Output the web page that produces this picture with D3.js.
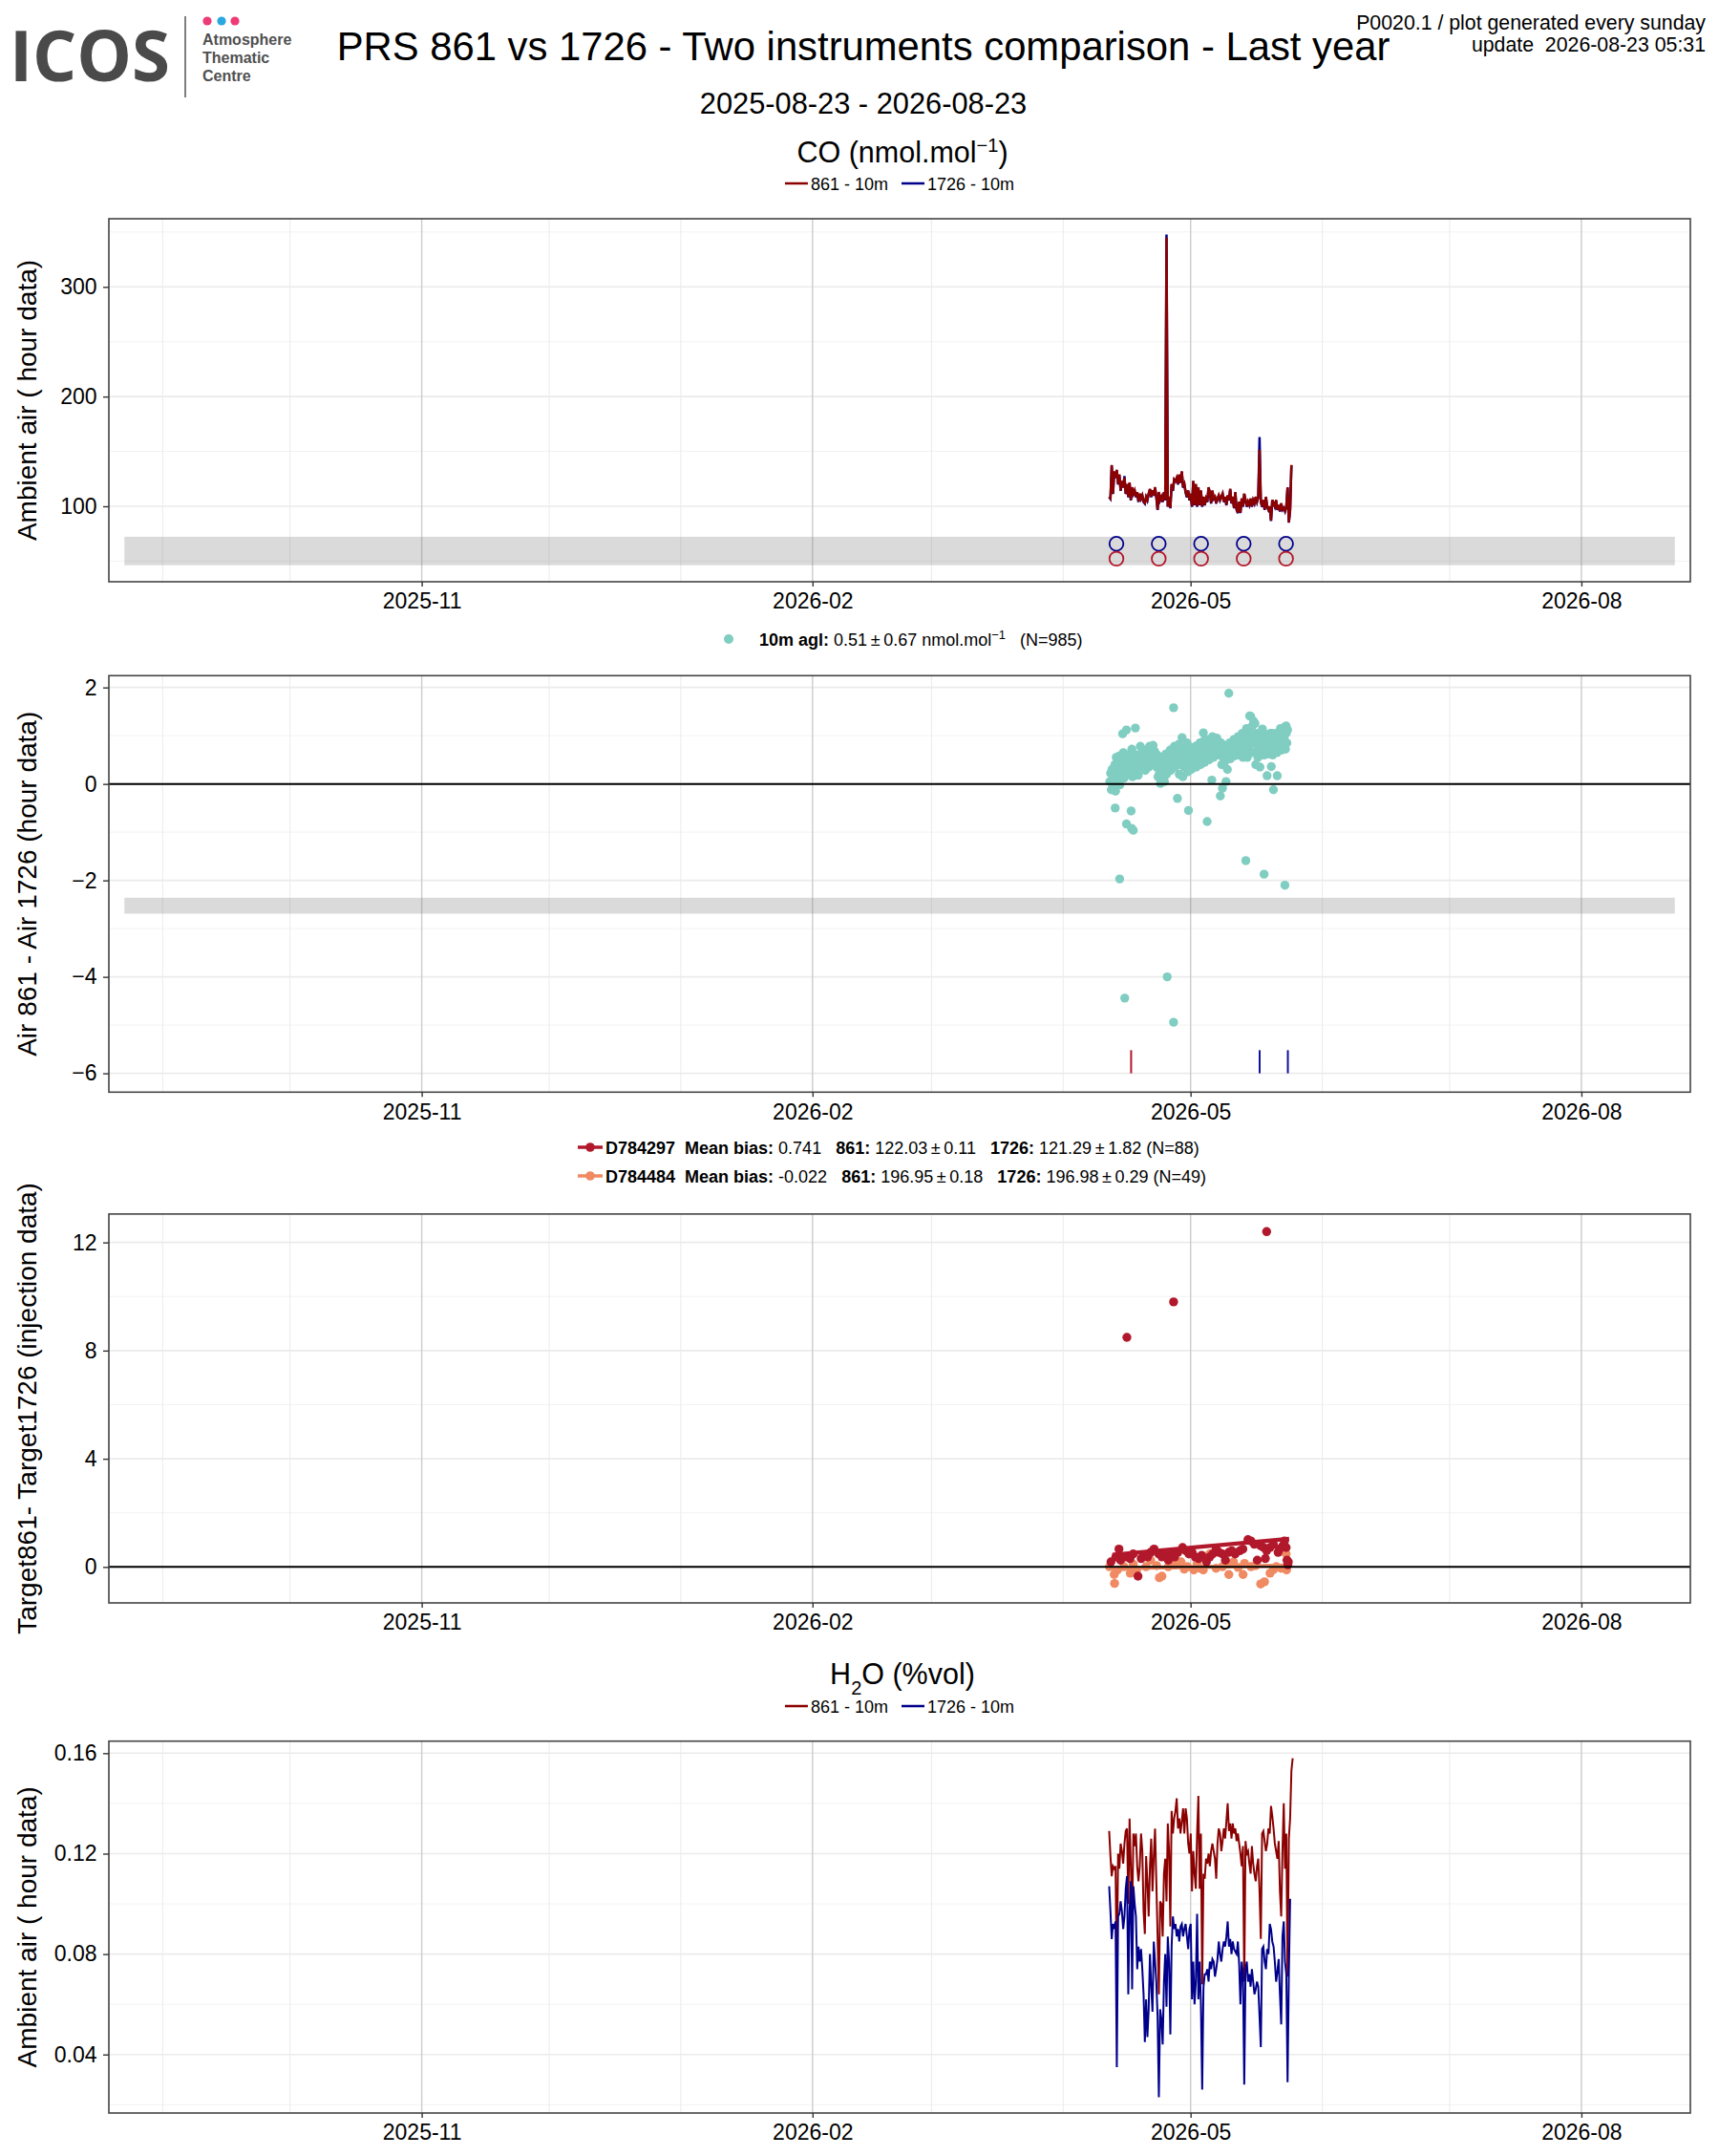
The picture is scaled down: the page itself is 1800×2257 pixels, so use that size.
<!DOCTYPE html>
<html>
<head>
<meta charset="utf-8">
<script src="https://cdn.jsdelivr.net/npm/d3@7"></script>
<style>
  body { margin: 0; background: #fff; }
  svg { display: block; }
  text { font-family: "Liberation Sans", Arial, Helvetica, sans-serif; fill: #000; }
</style>
</head>
<body>
<div id="chart"></div>
<script>
// ---------- data ----------
const xTickLabels = ['2025-11', '2026-02', '2026-05', '2026-08'];
const coTicks = [100, 200, 300];
const diffTicks = [-6, -4, -2, 0, 2];
const tgtTicks = [0, 4, 8, 12];
const h2oTicks = [0.04, 0.08, 0.12, 0.16];

// hourly-ish ambient series, one value every 7.2 h from 2026-04-11 20:00 UTC
const seriesStart = '2026-04-11T20:00:00Z';
const seriesStepHours = 7.2;

const co861 = [
  108.7, 107.2, 137.7, 111.6, 131.9, 126.1, 133.3, 120.3, 129.0, 114.5,
  123.2, 117.4, 126.1, 111.6, 120.3, 108.7, 121.7, 105.8, 117.4, 111.6,
  114.5, 108.7, 113.0, 104.3, 111.6, 107.2, 110.1, 104.3, 102.9, 108.7,
  105.8, 111.6, 115.9, 108.7, 114.5, 110.1, 117.4, 108.7, 97.1, 113.0,
  105.8, 108.7, 104.3, 113.0, 105.8, 344.9, 100.0, 108.7, 98.6, 120.3,
  114.5, 124.6, 123.2, 126.1, 120.3, 129.0, 121.7, 131.9, 117.4, 120.3,
  113.0, 108.7, 114.5, 105.8, 111.6, 100.0, 123.2, 101.4, 120.3, 100.0,
  117.4, 101.4, 114.5, 100.0, 108.7, 101.4, 107.2, 104.3, 117.4, 113.0,
  102.9, 114.5, 107.2, 108.7, 102.9, 107.2, 110.1, 105.8, 108.7, 111.6,
  104.3, 108.7, 101.4, 110.1, 105.8, 115.9, 102.9, 108.7, 98.6, 113.0,
  97.1, 94.2, 104.3, 94.2, 107.2, 100.0, 111.6, 105.8, 100.0, 104.3,
  101.4, 107.2, 100.0, 105.8, 102.9, 108.7, 104.3, 108.7, 151.6, 104.3,
  100.0, 105.8, 97.1, 108.7, 100.0, 97.1, 100.0, 87.0, 105.8, 102.9,
  100.0, 105.8, 97.1, 101.4, 95.7, 102.9, 97.1, 98.6, 95.7, 100.0,
  117.4, 85.5, 97.1, 137.7
];
const co1726 = [
  108.2, 106.7, 137.2, 111.1, 131.4, 125.6, 132.8, 119.8, 128.5, 114.0,
  122.7, 116.9, 127.5, 111.1, 119.8, 108.2, 121.2, 105.3, 116.9, 111.1,
  114.0, 108.2, 112.5, 103.8, 111.1, 106.7, 109.6, 103.8, 102.4, 108.2,
  105.3, 111.1, 115.4, 108.2, 114.0, 109.6, 116.9, 108.2, 96.6, 112.5,
  105.3, 108.2, 103.8, 112.5, 105.3, 347.8, 99.5, 108.2, 98.1, 119.8,
  114.0, 124.1, 122.7, 125.6, 119.8, 128.5, 121.2, 131.4, 116.9, 119.8,
  112.5, 108.2, 114.0, 105.3, 111.1, 99.5, 122.7, 100.9, 119.8, 99.5,
  116.9, 100.9, 114.0, 99.5, 108.2, 100.9, 106.7, 103.8, 116.9, 112.5,
  102.4, 114.0, 106.7, 108.2, 102.4, 106.7, 109.6, 105.3, 108.2, 111.1,
  103.8, 108.2, 100.9, 109.6, 105.3, 115.4, 102.4, 108.2, 98.1, 112.5,
  96.6, 93.7, 103.8, 93.7, 106.7, 99.5, 111.1, 105.3, 99.5, 103.8,
  100.9, 106.7, 99.5, 105.3, 102.4, 108.2, 103.8, 108.2, 163.2, 103.8,
  99.5, 105.3, 96.6, 108.2, 99.5, 96.6, 99.5, 86.5, 105.3, 102.4,
  99.5, 105.3, 96.6, 100.9, 95.2, 102.4, 96.6, 98.1, 95.2, 99.5,
  116.9, 85.0, 96.6, 137.2
];

const h2o861 = [
  0.129, 0.119, 0.111, 0.115, 0.114, 0.115, 0.069, 0.120, 0.114, 0.124,
  0.121, 0.116, 0.124, 0.129, 0.130, 0.100, 0.134, 0.115, 0.093, 0.128,
  0.123, 0.128, 0.115, 0.109, 0.115, 0.128, 0.121, 0.097, 0.088, 0.119,
  0.109, 0.095, 0.115, 0.126, 0.105, 0.119, 0.130, 0.109, 0.087, 0.064,
  0.101, 0.100, 0.087, 0.112, 0.118, 0.101, 0.132, 0.121, 0.091, 0.137,
  0.128, 0.134, 0.137, 0.142, 0.130, 0.134, 0.128, 0.133, 0.138, 0.128,
  0.138, 0.134, 0.124, 0.120, 0.128, 0.105, 0.121, 0.112, 0.106, 0.128,
  0.143, 0.106, 0.128, 0.068, 0.112, 0.110, 0.118, 0.116, 0.120, 0.115,
  0.121, 0.124, 0.121, 0.118, 0.110, 0.124, 0.130, 0.128, 0.121, 0.125,
  0.130, 0.126, 0.133, 0.140, 0.129, 0.132, 0.126, 0.132, 0.128, 0.130,
  0.125, 0.128, 0.124, 0.120, 0.115, 0.123, 0.069, 0.125, 0.120, 0.121,
  0.116, 0.112, 0.123, 0.116, 0.112, 0.109, 0.115, 0.118, 0.105, 0.086,
  0.128, 0.129, 0.125, 0.121, 0.124, 0.130, 0.128, 0.139, 0.135, 0.130,
  0.124, 0.121, 0.118, 0.125, 0.105, 0.095, 0.121, 0.140, 0.114, 0.128,
  0.071, 0.126, 0.134, 0.153, 0.158
];
const h2o1726 = [
  0.107, 0.097, 0.086, 0.092, 0.090, 0.093, 0.035, 0.095, 0.096, 0.101,
  0.097, 0.090, 0.095, 0.106, 0.111, 0.064, 0.097, 0.109, 0.066, 0.107,
  0.100, 0.095, 0.074, 0.083, 0.077, 0.082, 0.074, 0.064, 0.045, 0.062,
  0.047, 0.058, 0.080, 0.067, 0.057, 0.085, 0.077, 0.069, 0.055, 0.023,
  0.058, 0.054, 0.044, 0.069, 0.080, 0.059, 0.087, 0.077, 0.048, 0.083,
  0.095, 0.090, 0.092, 0.087, 0.090, 0.085, 0.091, 0.092, 0.087, 0.090,
  0.092, 0.087, 0.082, 0.090, 0.092, 0.062, 0.077, 0.060, 0.069, 0.096,
  0.062, 0.077, 0.060, 0.026, 0.067, 0.072, 0.072, 0.074, 0.069, 0.077,
  0.074, 0.078, 0.077, 0.071, 0.074, 0.078, 0.085, 0.080, 0.077, 0.082,
  0.085, 0.083, 0.087, 0.093, 0.083, 0.086, 0.080, 0.085, 0.082, 0.081,
  0.080, 0.085, 0.076, 0.060, 0.077, 0.072, 0.028, 0.074, 0.077, 0.069,
  0.072, 0.067, 0.074, 0.069, 0.064, 0.066, 0.069, 0.067, 0.055, 0.043,
  0.082, 0.083, 0.077, 0.074, 0.082, 0.080, 0.092, 0.090, 0.085, 0.083,
  0.077, 0.069, 0.073, 0.078, 0.064, 0.052, 0.087, 0.093, 0.077, 0.072,
  0.029, 0.072, 0.102
];

// calibration markers (days from 2026-05-01) and the levels they are drawn at
const calDay = [-17.46, -7.5, 2.47, 12.5, 22.47];
const cal1726Level = 65.8;
const cal861Level = 52.2;
const coBand = [46.3, 72.2];

// Air 861 - Air 1726 : one row per day (2026-04-12 .. 2026-05-23), every 4 h
const diffStart = '2026-04-12T00:00:00Z';
const diffStepHours = 4;
const diffCloud = [
  0.05, 0.22, -0.12, 0.30, 0.10, -0.05,
  0.15, 0.40, -0.15, 0.55, 0.25, 0.05,
  0.30, 0.58, -0.02, 0.45, 0.20, 0.52,
  0.40, 0.65, 0.12, 0.55, 0.30, 0.48,
  0.35, 0.60, 0.20, 0.50, 0.42, 0.25,
  0.55, 0.72, 0.15, 0.40, 0.62, 0.30,
  0.45, 0.25, 0.60, 0.38, 0.18, 0.52,
  0.60, 0.78, 0.35, 0.55, 0.70, 0.42,
  0.50, 0.70, 0.28, 0.62, 0.40, 0.55,
  0.65, 0.35, 0.78, 0.52, 0.45, 0.70,
  0.58, 0.80, 0.40, 0.68, 0.50, 0.62,
  0.35, 0.60, 0.15, 0.48, 0.25, 0.55,
  0.30, 0.10, 0.55, 0.22, 0.45, 0.05,
  0.40, 0.62, 0.20, 0.50, 0.35, 0.58,
  0.48, 0.70, 0.28, 0.60, 0.40, 0.65,
  0.55, 0.78, 0.35, 0.62, 0.45, 0.72,
  0.50, 0.82, 0.20, 0.65, 0.40, 0.75,
  0.45, 0.15, 0.70, 0.35, 0.60, 0.78,
  0.55, 0.85, 0.25, 0.68, 0.45, 0.75,
  0.60, 0.30, 0.75, 0.50, 0.65, 0.40,
  0.58, 0.78, 0.35, 0.65, 0.50, 0.72,
  0.62, 0.85, 0.40, 0.70, 0.55, 0.80,
  0.70, 0.90, 0.45, 0.78, 0.60, 0.85,
  0.72, 0.92, 0.50, 0.80, 0.65, 0.88,
  0.75, 0.98, 0.55, 0.85, 0.68, 0.90,
  0.80, 0.95, 0.60, 0.88, 0.70, 0.75,
  0.65, 0.85, 0.40, 0.72, 0.55, 0.80,
  0.45, 0.75, 0.05, 0.60, 0.30, 0.70,
  0.65, 0.85, 0.52, 0.75, 0.60, 0.80,
  0.70, 0.92, 0.58, 0.82, 0.65, 0.88,
  0.75, 0.98, 0.60, 0.85, 0.70, 0.92,
  0.80, 1.05, 0.55, 0.90, 0.70, 0.95,
  0.85, 1.15, 0.55, 0.95, 0.75, 1.05,
  1.00, 1.40, 0.65, 1.20, 0.85, 1.30,
  0.90, 1.25, 0.40, 1.05, 0.70, 0.55,
  0.75, 1.00, 0.35, 0.85, 0.60, 0.95,
  0.80, 1.05, 0.60, 0.90, 0.70, 1.00,
  0.85, 1.00, 0.62, 0.95, 0.75, 1.05,
  0.80, 1.05, 0.60, 0.92, 0.70, 1.00,
  0.85, 1.05, 0.65, 0.95, 0.75, 1.00,
  0.90, 1.15, 0.70, 1.00, 0.80, 1.10,
  0.95, 1.18, 0.72, 1.05, 0.85, 1.12
];
// scattered hours away from the main cloud (days from 2026-05-01)
const diffExtraDay = [-17.75, -16.7, -16.0, -15.5, -15.1, -15.1, -14.0, -13.9, -13.5, -13.0, -7.1,
  -5.5, -4.0, -4.0, -3.1, -2.0, -0.5, 3.0, 3.9, 5.0, 7.0, 7.5, 9.0, 13.0, 13.9, 16.9, 17.3,
  18.0, 19.0, 19.5, 20.4, 22.2, 22.5];
const diffExtraVal = [-0.50, -1.97, 1.04, -4.44, 1.12, -0.83, -0.56, -0.92, -0.96, 1.16, 0.01,
  -4.00, 1.58, -4.94, -0.30, 0.96, -0.55, 1.06, -0.78, 0.08, -0.25, -0.09, 1.88, -1.59, 1.41, 1.14, -1.87,
  0.17, 0.36, -0.12, 0.17, -2.10, 1.20];
const diffBand = [-2.69, -2.36];
const flag861Day = [-14.0];
const flag1726Day = [16.25, 22.9];

// target injections, days from 2026-05-01
const t1Day = [-18.74, -17.6, -16.86, -16.49, -15.37, -15.0, -14.25, -13.5, -12.38, -11.63, -10.9, -10.13,
  -9.4, -8.6, -7.5, -6.75, -6.0, -5.25, -4.5, -4.0, -3.75, -3.0, -1.89, -1.1, -0.4, 0.37, 1.1, 1.9,
  2.6, 3.73, 4.5, 5.2, 6.0, 6.7, 7.5, 8.2, 9.0, 9.7, 10.5, 11.6, 12.3, 13.5, 14.2, 15.0, 15.7, 16.5,
  17.2, 17.6, 17.9, 17.9, 18.7, 19.5, 20.6, 20.9, 21.7, 22.1, 22.5, 22.7, 22.9, 23.0];
const t1Val = [0.19, 0.37, 0.66, 0.25, 0.37, 8.49, 0.31, 0.48, -0.34, 0.31, 0.43, 0.37,
  0.54, 0.66, 0.48, 0.37, 0.43, 0.25, 0.48, 9.80, 0.37, 0.54, 0.72, 0.60, 0.48, 0.54, 0.37, 0.31,
  0.43, 0.19, 0.37, 0.48, 0.66, 0.54, 0.48, 0.25, 0.54, 0.60, 0.48, 0.60, 0.66, 1.01, 0.96, 0.84, 0.25, 0.78,
  0.72, 0.31, 12.40, 0.60, 0.72, 0.84, 0.54, 0.66, 0.78, 0.96, 0.72, 0.25, 0.08, 0.19];
const t1TrendDay = [-18.4, 23.2];
const t1TrendVal = [0.45, 1.04];

const t2Day = [-19.1, -17.98, -17.9, -17.2, -15.7, -14.2, -13.5, -12.7, -10.5, -9.4, -8.0, -7.35, -6.75,
  -5.25, -3.75, -2.25, -1.5, -0.75, 0.74, 1.5, 2.24, 2.99, 4.49, 5.99, 7.5, 8.3, 9.0, 10.1, 11.2,
  12.35, 12.7, 14.2, 15.3, 16.5, 17.4, 18.7, 19.5, 20.2, 21.3, 22.5, 22.6, 22.85];
const t2Val = [0.01, -0.28, -0.61, -0.11, 0.01, -0.23, 0.10, -0.11, 0.01, 0.25, 0.05, -0.40, -0.34,
  0.01, 0.07, 0.19, -0.08, 0.01, -0.11, 0.12, -0.05, -0.11, 0.48, -0.05, 0.01, 0.10, -0.28, 0.19, -0.02,
  -0.28, 0.13, 0.01, 0.05, -0.63, -0.55, -0.23, -0.10, 0.01, -0.05, 0.48, -0.11, 0.13];
const t2TrendDay = [-19.1, 22.9];
const t2TrendVal = [-0.05, 0.05];

// ---------- setup ----------
const W = 1800, H = 2257;
const DAY = 864e5;
const refDay = Date.UTC(2026, 4, 1);
const fromDay = d => new Date(refDay + d * DAY);
const col861 = '#8b0000', col1726 = '#00008b';
const colTeal = '#80cdc1', colT1 = '#b2182b', colT2 = '#ef8a62';
const legendSize = 18;

const svg = d3.select('#chart').append('svg')
  .attr('width', W).attr('height', H);
svg.append('rect').attr('width', W).attr('height', H).attr('fill', '#fff');

const rangeStart = Date.UTC(2025, 7, 23), rangeEnd = Date.UTC(2026, 7, 23);
const pad = 0.01 * (rangeEnd - rangeStart);
const x = d3.scaleUtc()
  .domain([new Date(rangeStart - pad), new Date(rangeEnd + pad)])
  .range([114, 1770]);
const majorDates = xTickLabels.map(d3.utcParse('%Y-%m'));
const minorDates = d3.utcMonth.range(x.domain()[0], x.domain()[1])
  .filter(d => !majorDates.some(m => +m === +d));

const seriesT0 = Date.parse(seriesStart);
const seriesX = i => x(new Date(seriesT0 + i * seriesStepHours * 3600e3));
const diffT0 = Date.parse(diffStart);

function minorOf(ticks, dom) {
  const step = ticks[1] - ticks[0];
  const out = [];
  for (let v = ticks[0] - step / 2; v <= ticks[ticks.length - 1] + step; v += step) {
    if (v >= dom[0] && v <= dom[1]) out.push(v);
  }
  return out;
}

// draws the grid, and returns the y scale + a layer for the marks
function drawPanel(p) {
  const y = d3.scaleLinear().domain(p.domain).range([p.bottom, p.top]);
  const [x0, x1] = x.range();
  const g = svg.append('g');
  g.selectAll(null).data(minorOf(p.ticks, p.domain)).enter().append('line')
    .attr('x1', x0).attr('x2', x1).attr('y1', d => y(d)).attr('y2', d => y(d))
    .attr('stroke', '#f2f2f2').attr('stroke-width', 1);
  g.selectAll(null).data(minorDates).enter().append('line')
    .attr('x1', d => x(d)).attr('x2', d => x(d)).attr('y1', p.top).attr('y2', p.bottom)
    .attr('stroke', '#ebebeb').attr('stroke-width', 1);
  g.selectAll(null).data(p.ticks).enter().append('line')
    .attr('x1', x0).attr('x2', x1).attr('y1', d => y(d)).attr('y2', d => y(d))
    .attr('stroke', '#ebebeb').attr('stroke-width', 1.6);
  g.selectAll(null).data(majorDates).enter().append('line')
    .attr('x1', d => x(d)).attr('x2', d => x(d)).attr('y1', p.top).attr('y2', p.bottom)
    .attr('stroke', '#cccccc').attr('stroke-width', 1.4);
  const data = svg.append('g');
  return { y, data, p };
}

function finishPanel(pan) {
  const { y, p } = pan;
  const [x0, x1] = x.range();
  svg.append('rect')
    .attr('x', x0).attr('y', p.top).attr('width', x1 - x0).attr('height', p.bottom - p.top)
    .attr('fill', 'none').attr('stroke', '#444').attr('stroke-width', 1.6);

  const ya = svg.append('g').attr('transform', `translate(${x0},0)`)
    .call(d3.axisLeft(y).tickValues(p.ticks).tickSize(6).tickPadding(6.5).tickFormat(p.fmt));
  ya.select('.domain').remove();
  ya.selectAll('line').attr('stroke', '#333').attr('stroke-width', 1.4);
  ya.selectAll('text').attr('font-size', 23).attr('fill', '#000')
    .style('font-family', '"Liberation Sans", Arial, sans-serif');

  const xa = svg.append('g').attr('transform', `translate(0,${p.bottom})`)
    .call(d3.axisBottom(x).tickValues(majorDates).tickSize(5).tickPadding(7)
      .tickFormat(d3.utcFormat('%Y-%m')));
  xa.select('.domain').remove();
  xa.selectAll('line').attr('stroke', '#333').attr('stroke-width', 1.4);
  xa.selectAll('text').attr('font-size', 23).attr('fill', '#000')
    .style('font-family', '"Liberation Sans", Arial, sans-serif');

  svg.append('text')
    .attr('transform', `translate(38,${(p.top + p.bottom) / 2}) rotate(-90)`)
    .attr('text-anchor', 'middle').attr('font-size', 28)
    .text(p.title);
}

function band(pan, vals) {
  pan.data.append('rect')
    .attr('x', x(new Date(rangeStart))).attr('width', x(new Date(rangeEnd)) - x(new Date(rangeStart)))
    .attr('y', pan.y(vals[1])).attr('height', pan.y(vals[0]) - pan.y(vals[1]))
    .attr('fill', '#7f7f7f').attr('fill-opacity', 0.29);
}

function zeroLine(pan) {
  pan.data.append('line')
    .attr('x1', x.range()[0]).attr('x2', x.range()[1])
    .attr('y1', pan.y(0)).attr('y2', pan.y(0))
    .attr('stroke', '#000').attr('stroke-width', 2);
}

// ---------- header ----------
svg.append('text').attr('x', 10).attr('y', 85)
  .attr('font-size', 73).attr('font-weight', 700).attr('textLength', 168)
  .attr('lengthAdjust', 'spacingAndGlyphs')
  .style('font-family', '"Open Sans", sans-serif').style('fill', '#4a4a4a')
  .text('ICOS');
svg.append('line').attr('x1', 194).attr('x2', 194).attr('y1', 17).attr('y2', 102)
  .attr('stroke', '#555').attr('stroke-width', 1.5);
[['#ec3b76', 217], ['#2aa6e0', 232], ['#ec3b76', 246]].forEach(([c, cx]) => {
  svg.append('circle').attr('cx', cx).attr('cy', 22).attr('r', 4.6).attr('fill', c);
});
['Atmosphere', 'Thematic', 'Centre'].forEach((t, i) => {
  svg.append('text').attr('x', 212).attr('y', 47 + i * 19)
    .attr('font-size', 16).attr('font-weight', 700)
    .style('font-family', '"Liberation Sans", Arial, sans-serif').style('fill', '#505050')
    .text(t);
});
svg.append('text').attr('x', 904).attr('y', 63).attr('text-anchor', 'middle')
  .attr('font-size', 41.8).text('PRS 861 vs 1726 - Two instruments comparison - Last year');
svg.append('text').attr('x', 904).attr('y', 119).attr('text-anchor', 'middle')
  .attr('font-size', 30.8).text('2025-08-23 - 2026-08-23');
svg.append('text').attr('x', 1786).attr('y', 31).attr('text-anchor', 'end')
  .attr('font-size', 21.3).text('P0020.1 / plot generated every sunday');
svg.append('text').attr('x', 1786).attr('y', 54).attr('text-anchor', 'end')
  .attr('font-size', 21.3).style('white-space', 'pre').text('update  2026-08-23 05:31');

function unitTitle(cy, build) {
  const t = svg.append('text').attr('x', 945).attr('y', cy).attr('text-anchor', 'middle')
    .attr('font-size', 30.5);
  build(t);
}
function lineLegend(cy) {
  const g = svg.append('g');
  let cx = 0;
  [['861 - 10m', col861], ['1726 - 10m', col1726]].forEach(([label, c]) => {
    g.append('line').attr('x1', cx).attr('x2', cx + 24).attr('y1', cy).attr('y2', cy)
      .attr('stroke', c).attr('stroke-width', 2.5);
    const t = g.append('text').attr('x', cx + 27).attr('y', cy + 6.5).attr('font-size', legendSize).text(label);
    cx += 27 + t.node().getComputedTextLength() + 14;
  });
  g.attr('transform', `translate(${942 - (cx - 14) / 2},0)`);
}

// ---------- panel 1 : CO ambient ----------
unitTitle(170, t => {
  t.append('tspan').text('CO (nmol.mol');
  t.append('tspan').attr('font-size', 20).attr('baseline-shift', 'super').text('\u22121');
  t.append('tspan').text(')');
});
lineLegend(192);

const p1 = drawPanel({ top: 229, bottom: 609, domain: [31.2, 362.1], ticks: coTicks,
  fmt: d3.format('d'), title: 'Ambient air ( hour data)' });
band(p1, coBand);
p1.data.append('path').datum(co1726)
  .attr('d', d3.line().x((d, i) => seriesX(i)).y(d => p1.y(d)))
  .attr('fill', 'none').attr('stroke', col1726).attr('stroke-width', 2.5);
p1.data.append('path').datum(co861)
  .attr('d', d3.line().x((d, i) => seriesX(i)).y(d => p1.y(d)))
  .attr('fill', 'none').attr('stroke', col861).attr('stroke-width', 2.5);
p1.data.selectAll(null).data(calDay).enter().append('circle')
  .attr('cx', d => x(fromDay(d))).attr('cy', p1.y(cal1726Level)).attr('r', 7.3)
  .attr('fill', 'none').attr('stroke', col1726).attr('stroke-width', 1.8);
p1.data.selectAll(null).data(calDay).enter().append('circle')
  .attr('cx', d => x(fromDay(d))).attr('cy', p1.y(cal861Level)).attr('r', 7.3)
  .attr('fill', 'none').attr('stroke', colT1).attr('stroke-width', 1.8);
finishPanel(p1);

// ---------- panel 2 : Air difference ----------
{
  const g = svg.append('g');
  g.append('circle').attr('cx', 763).attr('cy', 669).attr('r', 5).attr('fill', colTeal);
  const t = g.append('text').attr('x', 795).attr('y', 675.5).attr('font-size', legendSize)
    .style('white-space', 'pre');
  t.append('tspan').attr('font-weight', 700).text('10m agl:');
  t.append('tspan').text(' 0.51\u2009\u00b1\u20090.67 nmol.mol');
  t.append('tspan').attr('font-size', 13).attr('baseline-shift', 'super').text('\u22121');
  t.append('tspan').text('   (N=985)');
}
const p2 = drawPanel({ top: 707.3, bottom: 1143.3, domain: [-6.39, 2.245], ticks: diffTicks,
  fmt: d3.format('d'), title: 'Air 861 - Air 1726 (hour data)' });
band(p2, diffBand);
p2.data.selectAll(null).data(diffCloud).enter().append('circle')
  .attr('cx', (d, i) => x(new Date(diffT0 + i * diffStepHours * 3600e3)))
  .attr('cy', d => p2.y(d)).attr('r', 4.7).attr('fill', colTeal);
p2.data.selectAll(null).data(diffExtraVal).enter().append('circle')
  .attr('cx', (d, i) => x(fromDay(diffExtraDay[i])))
  .attr('cy', d => p2.y(d)).attr('r', 4.7).attr('fill', colTeal);
[[flag861Day, colT1], [flag1726Day, '#0f0f9e']].forEach(([days, c]) => {
  p2.data.selectAll(null).data(days).enter().append('line')
    .attr('x1', d => x(fromDay(d))).attr('x2', d => x(fromDay(d)))
    .attr('y1', p2.y(-5.52)).attr('y2', p2.y(-6.0))
    .attr('stroke', c).attr('stroke-width', 2);
});
zeroLine(p2);
finishPanel(p2);

// ---------- panel 3 : target injections ----------
{
  const rows = [
    [colT1, 'D784297', '0.741', '122.03\u2009\u00b1\u20090.11', '121.29\u2009\u00b1\u20091.82 (N=88)'],
    [colT2, 'D784484', '-0.022', '196.95\u2009\u00b1\u20090.18', '196.98\u2009\u00b1\u20090.29 (N=49)']
  ];
  rows.forEach(([c, id, bias, a, b], i) => {
    const cy = 1201 + i * 30;
    svg.append('line').attr('x1', 605).attr('x2', 631).attr('y1', cy).attr('y2', cy)
      .attr('stroke', c).attr('stroke-width', 3.5);
    svg.append('circle').attr('cx', 618).attr('cy', cy).attr('r', 4.8).attr('fill', c);
    const t = svg.append('text').attr('x', 634).attr('y', cy + 6.5).attr('font-size', legendSize)
      .style('white-space', 'pre');
    t.append('tspan').attr('font-weight', 700).text(id + '  Mean bias:');
    t.append('tspan').text(' ' + bias + '   ');
    t.append('tspan').attr('font-weight', 700).text('861:');
    t.append('tspan').text(' ' + a + '   ');
    t.append('tspan').attr('font-weight', 700).text('1726:');
    t.append('tspan').text(' ' + b);
  });
}
const p3 = drawPanel({ top: 1270.9, bottom: 1678, domain: [-1.33, 13.05], ticks: tgtTicks,
  fmt: d3.format('d'), title: 'Target861- Target1726 (injection data)' });
const trend = (days, vals, c) => p3.data.append('path')
  .datum(days.map((d, i) => [d, vals[i]]))
  .attr('d', d3.line().x(d => x(fromDay(d[0]))).y(d => p3.y(d[1])))
  .attr('fill', 'none').attr('stroke', c).attr('stroke-width', 4.2);
trend(t2TrendDay, t2TrendVal, colT2);
p3.data.selectAll(null).data(t2Val).enter().append('circle')
  .attr('cx', (d, i) => x(fromDay(t2Day[i]))).attr('cy', d => p3.y(d))
  .attr('r', 4.7).attr('fill', colT2);
trend(t1TrendDay, t1TrendVal, colT1);
p3.data.selectAll(null).data(t1Val).enter().append('circle')
  .attr('cx', (d, i) => x(fromDay(t1Day[i]))).attr('cy', d => p3.y(d))
  .attr('r', 4.7).attr('fill', colT1);
zeroLine(p3);
finishPanel(p3);

// ---------- panel 4 : H2O ambient ----------
unitTitle(1763, t => {
  t.append('tspan').text('H');
  t.append('tspan').attr('font-size', 20).attr('baseline-shift', 'sub').text('2');
  t.append('tspan').text('O (%vol)');
});
lineLegend(1786);
const p4 = drawPanel({ top: 1822.7, bottom: 2212, domain: [0.0167, 0.1648], ticks: h2oTicks,
  fmt: d3.format('.2f'), title: 'Ambient air ( hour data)' });
p4.data.append('path').datum(h2o861)
  .attr('d', d3.line().x((d, i) => seriesX(i)).y(d => p4.y(d)))
  .attr('fill', 'none').attr('stroke', col861).attr('stroke-width', 2);
p4.data.append('path').datum(h2o1726)
  .attr('d', d3.line().x((d, i) => seriesX(i)).y(d => p4.y(d)))
  .attr('fill', 'none').attr('stroke', col1726).attr('stroke-width', 2);
finishPanel(p4);
</script>
</body>
</html>
